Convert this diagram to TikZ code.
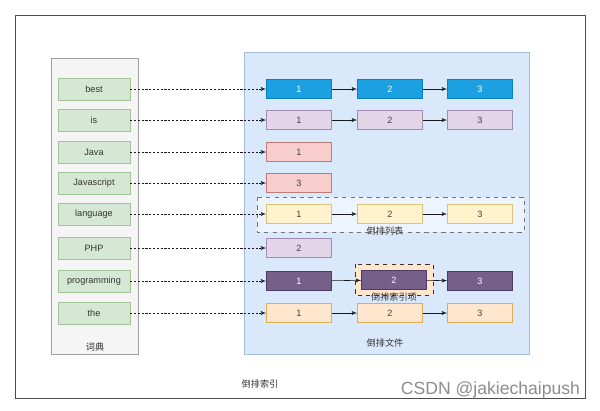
\documentclass[tikz,border=0pt]{standalone}
\usepackage{fontspec}
\setmainfont{Liberation Sans}
\newfontfamily\cjk{Noto Sans CJK SC}
\usetikzlibrary{arrows,positioning,calc}
\definecolor{dictfill}{HTML}{F5F5F5}
\definecolor{dictline}{HTML}{A0A0A0}
\definecolor{wordfill}{HTML}{D5E8D4}
\definecolor{wordline}{HTML}{A3C49A}
\definecolor{filefill}{HTML}{DAE8FC}
\definecolor{fileline}{HTML}{A8BCDB}
\definecolor{bluefill}{HTML}{1BA1E2}
\definecolor{blueline}{HTML}{0B7FBF}
\definecolor{lilfill}{HTML}{E1D5E7}
\definecolor{lilline}{HTML}{A58AB3}
\definecolor{pinkfill}{HTML}{F8CECC}
\definecolor{pinkline}{HTML}{C27A77}
\definecolor{yelfill}{HTML}{FFF2CC}
\definecolor{yelline}{HTML}{DCC27A}
\definecolor{darkfill}{HTML}{76608A}
\definecolor{darkline}{HTML}{4F3A63}
\definecolor{orgfill}{HTML}{FFE6CC}
\definecolor{orgline}{HTML}{DDAE55}
\begin{document}
\begin{tikzpicture}
[x=0.025cm,y=-0.025cm,
font=\fontsize{6.5}{7.5}\selectfont,
word/.style={shape=rectangle,draw=wordline,fill=wordfill,text=black!80,minimum width=1.8cm,minimum height=0.55cm,inner sep=0pt},
post/.style={shape=rectangle,minimum width=1.625cm,minimum height=0.475cm,inner sep=0pt,text=black!75},
pblue/.style={post,draw=blueline,fill=bluefill,text=white},
plil/.style={post,draw=lilline,fill=lilfill},
ppink/.style={post,draw=pinkline,fill=pinkfill},
pyel/.style={post,draw=yelline,fill=yelfill},
pdark/.style={post,draw=darkline,fill=darkfill,text=white},
porg/.style={post,draw=orgline,fill=orgfill},
cn/.style={font=\cjk\fontsize{6.5}{7.5}\selectfont,text=black!80},
%
ptr/.style={thin,dash pattern=on 1.5pt off 1.2pt,>=latex',->,black!90},
nxt/.style={thin,>=latex',->,black!90}]
%
\useasboundingbox (0,0) rectangle (600,410);
\draw[black!70,line width=0.6pt] (15,15) rectangle (585,398);
%
% dictionary
\draw[dictline,fill=dictfill] (51,58) rectangle (138,354);
\node (dict) [cn] at (95,347) {词典};
\node (w1) [word] at (94,89) {best};
\node (w2) [word] at (94,120) {is};
\node (w3) [word] at (94,152) {Java};
\node (w4) [word] at (94,183) {Javascript};
\node (w5) [word] at (94,214) {language};
\node (w6) [word] at (94,248) {PHP};
\node (w7) [word] at (94,281) {programming};
\node (w8) [word] at (94,313) {the};
%
% inverted file
\draw[fileline,fill=filefill] (244,52) rectangle (529,354);
\node (file) [cn] at (385,343) {倒排文件};
\draw[black!55,dashed,fill=white,fill opacity=0.55] (257,197) rectangle (524,232);
\node (list) [cn] at (385,231) {倒排列表};
\draw[black!80,dashed,fill=orgfill] (355,264) rectangle (433,295);
\node (item) [cn] at (394,297) {倒排索引项};
%
\node (p11) [pblue] at (299,89) {1};
\node (p12) [pblue] at (390,89) {2};
\node (p13) [pblue] at (480,89) {3};
\node (p21) [plil] at (299,120) {1};
\node (p22) [plil] at (390,120) {2};
\node (p23) [plil] at (480,120) {3};
\node (p31) [ppink] at (299,152) {1};
\node (p41) [ppink] at (299,183) {3};
\node (p51) [pyel] at (299,214) {1};
\node (p52) [pyel] at (390,214) {2};
\node (p53) [pyel] at (480,214) {3};
\node (p61) [plil] at (299,248) {2};
\node (p71) [pdark] at (299,281) {1};
\node (p72) [pdark] at (394,280) {2};
\node (p73) [pdark] at (480,281) {3};
\node (p81) [porg] at (299,313) {1};
\node (p82) [porg] at (390,313) {2};
\node (p83) [porg] at (480,313) {3};
%
\draw[ptr] (w1) -- (p11);
\draw[ptr] (w2) -- (p21);
\draw[ptr] (w3) -- (p31);
\draw[ptr] (w4) -- (p41);
\draw[ptr] (w5) -- (p51);
\draw[ptr] (w6) -- (p61);
\draw[ptr] (w7) -- (p71);
\draw[ptr] (w8) -- (p81);
%
\draw[nxt] (p11) -- (p12);
\draw[nxt] (p12) -- (p13);
\draw[nxt] (p21) -- (p22);
\draw[nxt] (p22) -- (p23);
\draw[nxt] (p51) -- (p52);
\draw[nxt] (p52) -- (p53);
\draw[nxt] (p71) -- (p72);
\draw[nxt] (p72) -- (p73);
\draw[nxt] (p81) -- (p82);
\draw[nxt] (p82) -- (p83);
%
\node (index) [cn] at (260,384) {倒排索引};
\node (mark) [text=black!45,font=\fontsize{12.5}{14}\selectfont,anchor=east] at (585,390) {CSDN @jakiechaipush};
\end{tikzpicture}
\end{document}
